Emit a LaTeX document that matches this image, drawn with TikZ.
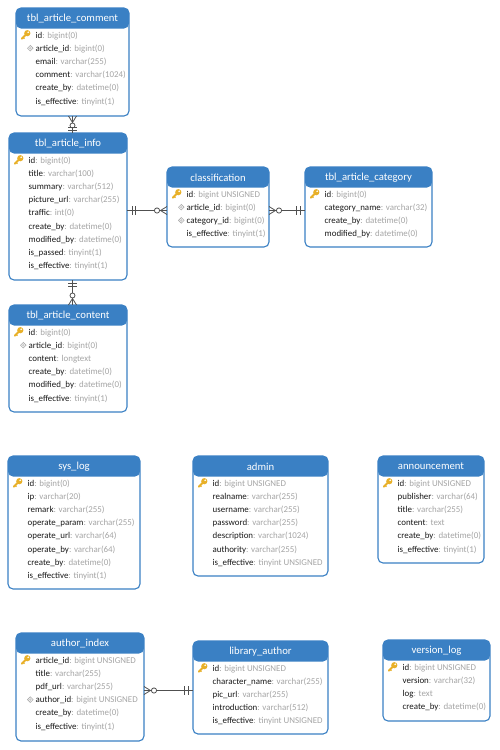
\documentclass[tikz,border=0pt]{standalone}
\usepackage{fontspec}
\setmainfont{Carlito}
\usetikzlibrary{calc}
\definecolor{hdr}{RGB}{58,128,196}
\definecolor{typegray}{RGB}{165,165,165}
\definecolor{namecol}{RGB}{25,25,25}
\definecolor{keygold}{RGB}{232,176,40}
\definecolor{fkgray}{RGB}{170,170,170}
\definecolor{linecol}{RGB}{80,80,80}
\tikzset{
  tbl/.style={draw=hdr, line width=1.1pt, fill=white, rounded corners=5pt,
    inner sep=0pt, outer sep=0pt, anchor=north west,
    path picture={\fill[hdr] (path picture bounding box.north west) rectangle ([yshift=-20.5pt]path picture bounding box.north east);}},
  ttl/.style={text=white, font=\fontsize{10.7}{12}\selectfont, inner sep=0pt},
  rowtxt/.style={anchor=base west, inner sep=0pt, text=namecol, font=\fontsize{8.9}{10}\selectfont},
  conn/.style={draw=linecol, line width=0.8pt},
  crowmark/.style={draw=linecol, line width=0.8pt},
}
\newcommand\keyicon[2]{%
  \fill[keygold] (#1+1.8,#2-1.8) circle (3.1);
  \fill[white] (#1+2.7,#2-2.7) circle (0.9);
  \draw[keygold, line width=1.9pt, line cap=round] (#1+0.6,#2-0.6) -- (#1-3.8,#2+3.8);
  \draw[keygold, line width=1.3pt] (#1-2.4,#2+2.4) -- (#1-1.1,#2+3.7);
}
\newcommand\fkicon[2]{%
  \draw[fkgray, fill=white, line width=0.6pt] (#1+2,#2) -- (#1+4.8,#2-2.8) -- (#1+7.6,#2) -- (#1+4.8,#2+2.8) -- cycle;
  \fill[fkgray!60] (#1+3.4,#2) -- (#1+4.8,#2-1.4) -- (#1+6.2,#2) -- (#1+4.8,#2+1.4) -- cycle;
}
\newcommand\noicon[2]{}
% #1 name, #2 left, #3 top, #4 right, #5 bottom, #6 title, #7 rows
\newcommand\ertable[7]{%
  \node[tbl, minimum width={(#4-#2)*1pt}, minimum height={(#5-#3)*1pt}] (#1) at (#2,#3) {};
  \node[ttl] at ($(#1.north)+(0,10.5)$) {#6};
  \foreach \ic/\nm/\ty [count=\i from 0] in {#7} {
    \pgfmathsetmacro\yy{#3+27+\i*13.2}
    \pgfmathsetmacro\xk{#2+9.5}
    \ic{\xk}{\yy}
    \node[rowtxt] at (#2+19.5,\yy+3) {\nm\textcolor{typegray}{: \ty}};
  }
}
% crow's foot + circle, horizontal: #1 x edge, #2 y, #3 dir
\newcommand\manyH[3]{%
  \draw[crowmark] (#1+#3*6.5,#2) -- (#1,#2-4) (#1+#3*6.5,#2) -- (#1,#2+4);
  \draw[crowmark, fill=white] (#1+#3*10,#2) circle (2.6);
}
\newcommand\oneH[3]{%
  \draw[crowmark] (#1+#3*5,#2-4.5) -- (#1+#3*5,#2+4.5) (#1+#3*8.5,#2-4.5) -- (#1+#3*8.5,#2+4.5);
}
\newcommand\manyV[3]{%
  \draw[crowmark] (#1,#2+#3*6.5) -- (#1-4,#2) (#1,#2+#3*6.5) -- (#1+4,#2);
  \draw[crowmark, fill=white] (#1,#2+#3*9.5) circle (2.5);
}
\newcommand\oneV[3]{%
  \draw[crowmark] (#1-4.5,#2+#3*3) -- (#1+4.5,#2+#3*3) (#1-4.5,#2+#3*6) -- (#1+4.5,#2+#3*6);
}
\begin{document}
\begin{tikzpicture}[x=1pt,y=-1pt]
\useasboundingbox (0,0) rectangle (500,750);

\ertable{comment}{16}{8}{129}{116}{tbl\_article\_comment}{%
 \keyicon/id/bigint(0), \fkicon/article\_id/bigint(0), \noicon/email/varchar(255),
 \noicon/comment/varchar(1024), \noicon/create\_by/datetime(0), \noicon/is\_effective/tinyint(1)}

\ertable{info}{9}{133}{127}{280}{tbl\_article\_info}{%
 \keyicon/id/bigint(0), \noicon/title/varchar(100), \noicon/summary/varchar(512),
 \noicon/picture\_url/varchar(255), \noicon/traffic/int(0), \noicon/create\_by/datetime(0),
 \noicon/modified\_by/datetime(0), \noicon/is\_passed/tinyint(1), \noicon/is\_effective/tinyint(1)}

\ertable{content}{9}{305}{127}{412}{tbl\_article\_content}{%
 \keyicon/id/bigint(0), \fkicon/article\_id/bigint(0), \noicon/content/longtext,
 \noicon/create\_by/datetime(0), \noicon/modified\_by/datetime(0), \noicon/is\_effective/tinyint(1)}

\ertable{class}{167}{167}{269}{247}{classification}{%
 \keyicon/id/bigint UNSIGNED, \fkicon/article\_id/bigint(0), \fkicon/category\_id/bigint(0),
 \noicon/is\_effective/tinyint(1)}

\ertable{category}{305}{167}{432}{247}{tbl\_article\_category}{%
 \keyicon/id/bigint(0), \noicon/category\_name/varchar(32), \noicon/create\_by/datetime(0),
 \noicon/modified\_by/datetime(0)}

\ertable{syslog}{8}{456}{140}{589}{sys\_log}{%
 \keyicon/id/bigint(0), \noicon/ip/varchar(20), \noicon/remark/varchar(255),
 \noicon/operate\_param/varchar(255), \noicon/operate\_url/varchar(64), \noicon/operate\_by/varchar(64),
 \noicon/create\_by/datetime(0), \noicon/is\_effective/tinyint(1)}

\ertable{admin}{193}{456}{328}{576}{admin}{%
 \keyicon/id/bigint UNSIGNED, \noicon/realname/varchar(255), \noicon/username/varchar(255),
 \noicon/password/varchar(255), \noicon/description/varchar(1024), \noicon/authority/varchar(255),
 \noicon/is\_effective/tinyint UNSIGNED}

\ertable{announce}{378}{456}{484}{563}{announcement}{%
 \keyicon/id/bigint UNSIGNED, \noicon/publisher/varchar(64), \noicon/title/varchar(255),
 \noicon/content/text, \noicon/create\_by/datetime(0), \noicon/is\_effective/tinyint(1)}

\ertable{authidx}{16}{633}{144}{741}{author\_index}{%
 \keyicon/article\_id/bigint UNSIGNED, \noicon/title/varchar(255), \noicon/pdf\_url/varchar(255),
 \fkicon/author\_id/bigint UNSIGNED, \noicon/create\_by/datetime(0), \noicon/is\_effective/tinyint(1)}

\ertable{libauth}{193}{641}{328}{734}{library\_author}{%
 \keyicon/id/bigint UNSIGNED, \noicon/character\_name/varchar(255), \noicon/pic\_url/varchar(255),
 \noicon/introduction/varchar(512), \noicon/is\_effective/tinyint UNSIGNED}

\ertable{verlog}{383}{640}{490}{721}{version\_log}{%
 \keyicon/id/bigint UNSIGNED, \noicon/version/varchar(32), \noicon/log/text,
 \noicon/create\_by/datetime(0)}

% connectors
\coordinate (r1) at (0,210.5);
\coordinate (r2) at (0,690.5);
\draw[conn] (comment.south) -- (comment.south |- info.north);
\manyV{72.5}{116}{1}
\oneV{72.5}{133}{-1}

\draw[conn] ([xshift=4.5pt]info.south) -- ([xshift=4.5pt]content.north);
\oneV{72.5}{280}{1}
\manyV{72.5}{305}{-1}

\draw[conn] (info.east |- r1) -- (class.west |- r1);
\oneH{127}{210.5}{1}
\manyH{167}{210.5}{-1}

\draw[conn] (class.east |- r1) -- (category.west |- r1);
\manyH{269}{210.5}{1}
\oneH{305}{210.5}{-1}

\draw[conn] (authidx.east |- r2) -- (libauth.west |- r2);
\manyH{144}{690.5}{1}
\oneH{193}{690.5}{-1}
\end{tikzpicture}
\end{document}
